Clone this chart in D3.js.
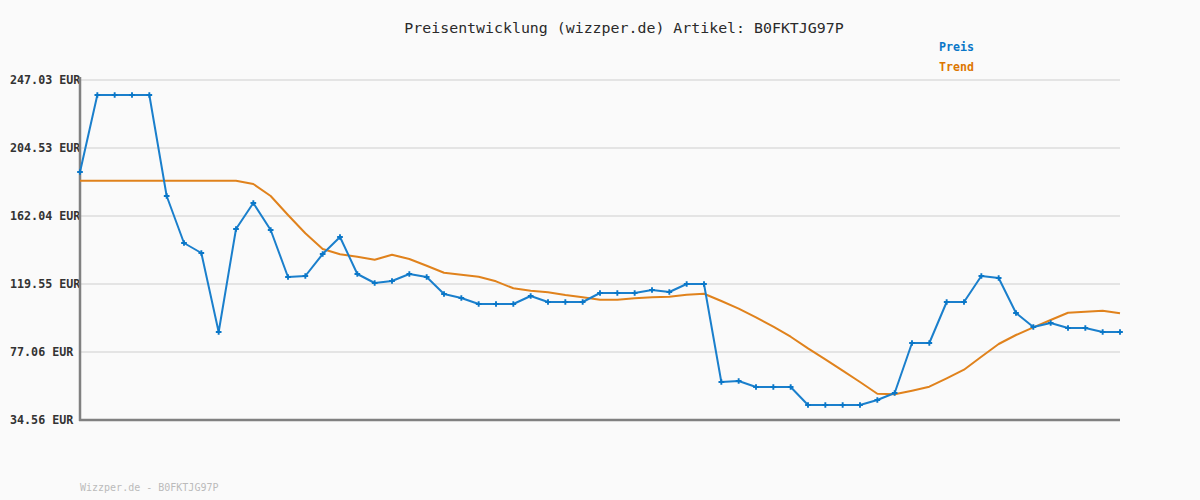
<!DOCTYPE html>
<html>
<head>
<meta charset="utf-8">
<script src="https://cdn.jsdelivr.net/npm/d3@7"></script>
<style>
html,body{margin:0;padding:0;background:#fafafa;}
svg{display:block;}
</style>
</head>
<body>
<svg id="chart" width="1200" height="500"></svg>
<script>
const titleText = "Preisentwicklung (wizzper.de) Artikel: B0FKTJG97P";
const footerText = "Wizzper.de - B0FKTJG97P";
const seriesNames = ["Preis", "Trend"];
const yTicks = [34.56, 77.06, 119.55, 162.04, 204.53, 247.03];
const yTickLabels = ["34.56 EUR", "77.06 EUR", "119.55 EUR", "162.04 EUR", "204.53 EUR", "247.03 EUR"];

const preis = [189.54, 237.66, 237.66, 237.66, 237.66, 174.54, 145.17, 138.92, 89.55, 153.92,
  170.16, 153.29, 123.92, 124.55, 138.29, 148.92, 125.80, 120.17, 121.42, 125.80,
  123.92, 113.30, 110.80, 107.05, 107.05, 107.05, 112.05, 108.30, 108.30, 108.30,
  113.92, 113.92, 113.92, 115.80, 114.55, 119.55, 119.55, 58.30, 58.93, 55.18,
  55.18, 55.18, 43.93, 43.93, 43.93, 43.93, 47.05, 51.43, 82.68, 82.68,
  108.30, 108.30, 124.55, 123.30, 101.42, 92.67, 95.17, 92.05, 92.05, 89.55, 89.55];

const trend = [184.10, 184.10, 184.10, 184.10, 184.10, 184.10, 184.10, 184.10, 184.10, 184.10,
  182.04, 174.54, 162.67, 151.23, 141.42, 138.11, 136.61, 134.73, 137.86, 135.17,
  130.98, 126.61, 125.36, 124.11, 121.23, 116.86, 115.36, 114.36, 112.67, 111.23,
  109.73, 109.73, 110.61, 111.23, 111.61, 112.86, 113.48, 108.92, 104.11, 98.74,
  92.86, 86.61, 79.36, 72.49, 65.37, 58.30, 50.99, 50.62, 52.87, 55.37,
  60.62, 65.99, 74.11, 82.05, 87.67, 92.49, 97.05, 101.61, 102.24, 102.86, 101.24];

const colors = {Preis: "#1a7fcc", Trend: "#e0821c"};
const legendColors = {Preis: "#0a77c8", Trend: "#dd7700"};

const svg = d3.select("#chart");
const mLeft = 80, mRight = 1120, mTop = 80, mBottom = 420;

const x = d3.scaleLinear().domain([0, preis.length - 1]).range([mLeft, mRight]);
const y = d3.scaleLinear().domain([yTicks[0], yTicks[yTicks.length - 1]]).range([mBottom, mTop]);

svg.append("rect").attr("width", 1200).attr("height", 500).attr("fill", "#fafafa");

// gridlines
svg.append("g").selectAll("line").data(yTicks.slice(1)).join("line")
  .attr("x1", mLeft).attr("x2", mRight)
  .attr("y1", d => y(d)).attr("y2", d => y(d))
  .attr("stroke", "#e4e4e4").attr("stroke-width", 2);

// y labels
svg.append("g").selectAll("text").data(yTicks).join("text")
  .attr("x", 10).attr("y", d => y(d) + 4)
  .attr("font-family", "DejaVu Sans Mono, monospace")
  .attr("font-weight", "bold").attr("font-size", "11.7px")
  .attr("fill", "#333")
  .text((d, i) => yTickLabels[i]);

// axes
svg.append("line").attr("x1", mLeft).attr("x2", mLeft).attr("y1", mTop - 3).attr("y2", mBottom + 1)
  .attr("stroke", "#808080").attr("stroke-width", 2.5);
svg.append("line").attr("x1", mLeft - 1).attr("x2", mRight).attr("y1", mBottom).attr("y2", mBottom)
  .attr("stroke", "#808080").attr("stroke-width", 2.5);

const line = d3.line().x((d, i) => x(i)).y(d => y(d));

svg.append("path").datum(trend).attr("d", line)
  .attr("fill", "none").attr("stroke", colors.Trend).attr("stroke-width", 2)
  .attr("stroke-linejoin", "round");

svg.append("path").datum(preis).attr("d", line)
  .attr("fill", "none").attr("stroke", colors.Preis).attr("stroke-width", 2)
  .attr("stroke-linejoin", "round");

const sym = d3.symbol().type(d3.symbolCross).size(18);
svg.append("g").selectAll("path").data(preis).join("path")
  .attr("d", sym)
  .attr("transform", (d, i) => `translate(${x(i)},${y(d)})`)
  .attr("fill", "#0a77c8");

// title
svg.append("text").attr("x", 624).attr("y", 33).attr("text-anchor", "middle")
  .attr("font-family", "DejaVu Sans Mono, monospace").attr("font-size", "14.9px")
  .attr("fill", "#2a2a2a").text(titleText);

// legend
svg.append("g").selectAll("text").data(seriesNames).join("text")
  .attr("x", 939).attr("y", (d, i) => 51 + i * 20)
  .attr("font-family", "DejaVu Sans Mono, monospace").attr("font-weight", "bold")
  .attr("font-size", "11.6px")
  .attr("fill", d => legendColors[d]).text(d => d);

// footer
svg.append("text").attr("x", 80).attr("y", 491)
  .attr("font-family", "DejaVu Sans Mono, monospace").attr("font-size", "10px")
  .attr("fill", "#bbbbbb").text(footerText);
</script>
</body>
</html>
